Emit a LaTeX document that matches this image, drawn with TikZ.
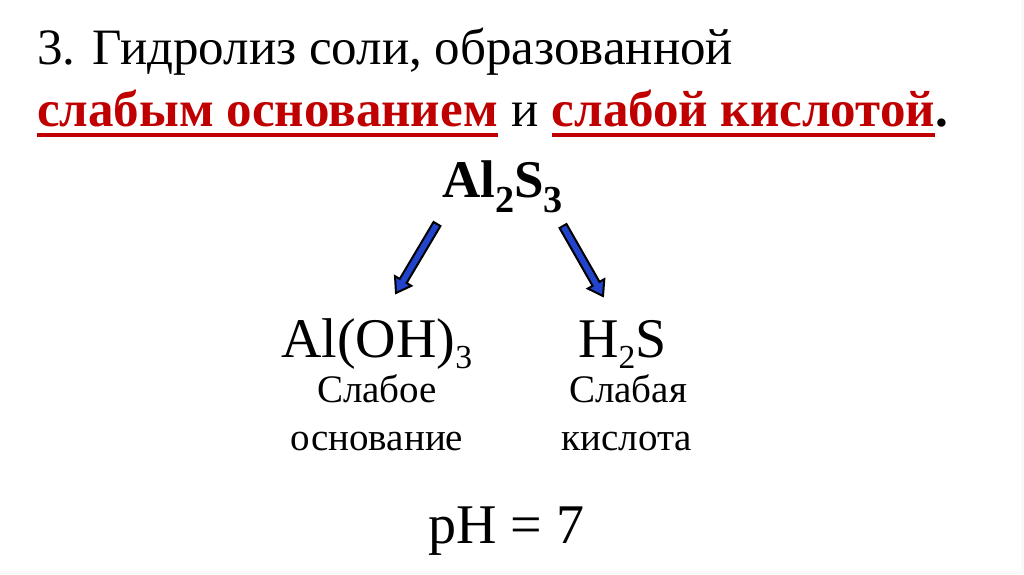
\documentclass[tikz,border=0pt]{standalone}
\usepackage{fontspec}
\setmainfont{Liberation Serif}
\usetikzlibrary{calc, positioning}
\definecolor{darkred}{RGB}{192, 0, 0}
\definecolor{arrowblue}{RGB}{34, 68, 204}
\newcommand{\chsub}[3][0.2em]{\raisebox{-#1}{\scalebox{#2}{#3}}}
\newcommand{\fatarrow}[2]{%
  \coordinate (n) at ($(#2)!14pt!(#1)$);
  \filldraw[arr] ($(#1)!4pt!90:(#2)$) -- ($(n)!4pt!90:(#2)$) -- ($(n)!9.5pt!90:(#2)$) -- (#2)
    -- ($(n)!9.5pt!-90:(#2)$) -- ($(n)!4pt!-90:(#2)$) -- ($(#1)!4pt!-90:(#2)$) -- cycle;}

\begin{document}
\begin{tikzpicture}[x=1pt, y=-1pt,
        txt/.style={inner sep=0, anchor=base west},
        hl/.style={txt, font=\bfseries\fontsize{51}{55}\selectfont, text=darkred},
        uline/.style={darkred, line width=4pt},
        lbl/.style={inner sep=0, anchor=base, font=\fontsize{39}{44}\selectfont},
        arr/.style={fill=arrowblue, draw=black, line width=2pt, line join=miter}]
    \useasboundingbox (0,0) rectangle (1024,574);
    \fill[gray!5] (0,0) rectangle (1024,574);
    \fill[white] (0,0) rectangle (1021,571);
    \node[txt, font=\fontsize{51}{55}\selectfont] (head) at (37,64) {3. Гидролиз соли, образованной};
    \node[hl] (weakbase) at (37,126) {слабым основанием};
    \node[txt, inner xsep=13pt, font=\fontsize{51}{55}\selectfont] (and) at (weakbase.base east) {и};
    \node[hl] (weakacid) at (and.base east) {слабой кислотой};
    \node[txt, font=\bfseries\fontsize{51}{55}\selectfont] (dot) at (weakacid.base east) {.};
    \foreach \w in {weakbase, weakacid}
        \draw[uline] ([yshift=-9pt]\w.base west) -- ([yshift=-9pt]\w.base east);
    \node[txt, font=\bfseries\fontsize{53}{56}\selectfont] (salt) at (442,197)
        {Al\chsub[0.3em]{0.72}{2}S\chsub[0.3em]{0.72}{3}};
    \coordinate (l1) at (437,224);
    \coordinate (l2) at (396,293);
    \coordinate (r1) at (563,226);
    \coordinate (r2) at (603,296);
    \foreach \a/\b in {l1/l2, r1/r2}
        \fatarrow{\a}{\b};
    \node[txt, font=\fontsize{56}{60}\selectfont] (base) at (281,357) {Al(OH)\chsub{0.6}{3}};
    \node[txt, font=\fontsize{56}{60}\selectfont] (acid) at (578,357) {H\chsub{0.6}{2}S};
    \node[lbl] (base1) at (377,402) {Слабое};
    \node[lbl] (base2) at (377,450) {основание};
    \node[lbl] (acid1) at (628,402) {Слабая};
    \node[lbl] (acid2) at (627,450) {кислота};
    \node[txt, font=\fontsize{56}{60}\selectfont] (ph) at (428,543) {pH = 7};
\end{tikzpicture}
\end{document}
